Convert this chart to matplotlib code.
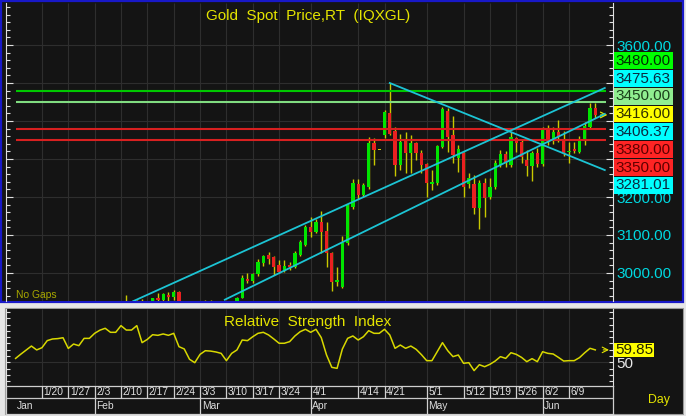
import matplotlib
matplotlib.use('Agg')
import matplotlib.pyplot as plt
from matplotlib.patches import Rectangle
from matplotlib.ticker import FixedLocator, MultipleLocator, FuncFormatter
from matplotlib import font_manager, transforms
import numpy as np
import pandas as pd

W, H = 686, 416

# ---- data -------------------------------------------------------------
dates = pd.bdate_range('2025-01-13', '2025-06-16')

opens = [2690, 2663, 2677, 2696, 2714, 2703, 2708, 2743, 2756, 2755,
         2770, 2740, 2763, 2760, 2794, 2798, 2815, 2842, 2867, 2856,
         2860, 2908, 2898, 2903, 2927, 2882, 2898, 2933, 2930, 2941,
         2937, 2950, 2915, 2916, 2876, 2858, 2893, 2918, 2920, 2910,
         2910, 2889, 2916, 2934, 2985, 2978, 2997, 3026, 3047, 3042,
         3021, 3006, 3021, 3015, 3047, 3074, 3120, 3109, 3135, 3111,
         3052, 2976, 2964, 3078, 3173, 3234, 3205, 3226, 3341, 3325,
         3363, 3422, 3374, 3284, 3350, 3315, 3343, 3317, 3287, 3234,
         3236, 3331, 3427, 3363, 3302, 3315, 3234, 3234, 3171, 3238,
         3199, 3227, 3284, 3312, 3284, 3356, 3346, 3297, 3282, 3315,
         3286, 3376, 3350, 3372, 3352, 3318, 3326, 3318, 3350, 3383,
         3433]
highs = [2693, 2682, 2700, 2724, 2716, 2711, 2745, 2763, 2763, 2786,
         2772, 2767, 2768, 2800, 2817, 2830, 2845, 2882, 2870, 2887,
         2911, 2941, 2908, 2929, 2931, 2905, 2935, 2947, 2948, 2950,
         2956, 2953, 2926, 2924, 2882, 2897, 2928, 2928, 2924, 2927,
         2914, 2922, 2938, 2995, 3001, 3000, 3036, 3048, 3054, 3044,
         3034, 3034, 3029, 3057, 3087, 3126, 3148, 3142, 3164, 3135,
         3055, 3017, 3097, 3182, 3247, 3247, 3238, 3357, 3355, 3325,
         3430, 3500, 3385, 3367, 3372, 3363, 3345, 3323, 3290, 3271,
         3336, 3436, 3433, 3413, 3337, 3318, 3263, 3259, 3245, 3249,
         3249, 3297, 3325, 3322, 3372, 3358, 3350, 3323, 3320, 3328,
         3385, 3389, 3385, 3403, 3375, 3346, 3345, 3360, 3398, 3447,
         3447]
lows = [2656, 2660, 2669, 2690, 2697, 2692, 2701, 2741, 2742, 2753,
        2730, 2738, 2748, 2754, 2781, 2770, 2809, 2839, 2834, 2853,
        2860, 2880, 2865, 2900, 2876, 2877, 2896, 2913, 2921, 2919,
        2930, 2890, 2904, 2875, 2832, 2856, 2879, 2900, 2896, 2894,
        2880, 2882, 2906, 2933, 2973, 2975, 2993, 3018, 3025, 2996,
        3000, 3003, 3008, 3013, 3045, 3072, 3096, 3104, 3053, 3015,
        2952, 2966, 2960, 3075, 3168, 3195, 3200, 3222, 3284, 3325,
        3355, 3363, 3255, 3270, 3262, 3263, 3297, 3262, 3201, 3218,
        3232, 3328, 3319, 3290, 3267, 3201, 3223, 3155, 3115, 3148,
        3195, 3222, 3280, 3280, 3280, 3318, 3289, 3256, 3242, 3280,
        3282, 3337, 3340, 3346, 3307, 3289, 3315, 3315, 3337, 3380,
        3408]
closes = [2663, 2677, 2696, 2714, 2703, 2708, 2743, 2756, 2755, 2770,
          2740, 2763, 2760, 2794, 2798, 2815, 2842, 2867, 2856, 2860,
          2908, 2898, 2903, 2927, 2882, 2898, 2933, 2930, 2944, 2937,
          2951, 2915, 2916, 2876, 2858, 2893, 2918, 2920, 2910, 2910,
          2889, 2916, 2934, 2987, 2978, 2997, 3030, 3045, 3037, 3017,
          3003, 3018, 3015, 3053, 3082, 3122, 3109, 3135, 3109, 3052,
          2977, 2981, 3078, 3179, 3236, 3205, 3232, 3343, 3323, 3325,
          3425, 3365, 3284, 3346, 3315, 3343, 3315, 3284, 3238, 3240,
          3333, 3431, 3359, 3311, 3326, 3227, 3249, 3171, 3238, 3197,
          3227, 3289, 3312, 3289, 3359, 3341, 3306, 3282, 3315, 3286,
          3378, 3350, 3372, 3359, 3315, 3322, 3321, 3350, 3388, 3433,
          3416]

rsi = [53.1, 56.5, 59.7, 62.9, 59.8, 61.6, 67.2, 68.5, 68.8, 69.5,
       61.0, 64.5, 63.2, 69.0, 69.0, 73.0, 75.5, 77.0, 73.8, 73.8,
       79.1, 75.6, 75.6, 79.1, 65.6, 68.2, 71.9, 71.4, 72.5, 71.4,
       73.0, 62.4, 60.6, 52.4, 49.7, 56.3, 59.2, 58.9, 58.2, 57.1,
       51.3, 57.1, 59.8, 67.7, 67.2, 70.3, 73.0, 73.8, 71.7, 68.5,
       65.1, 65.1, 66.4, 70.9, 74.3, 76.2, 73.8, 76.2, 69.6, 55.8,
       46.0, 45.2, 60.5, 69.0, 70.9, 67.7, 70.3, 75.1, 73.0, 73.0,
       76.2, 71.7, 61.1, 63.7, 61.1, 62.9, 60.3, 56.1, 51.3, 51.3,
       58.4, 65.6, 59.2, 54.5, 55.8, 49.2, 49.7, 43.4, 48.1, 46.5,
       48.4, 51.0, 54.5, 53.1, 57.6, 56.3, 53.9, 50.5, 52.9, 50.5,
       58.4, 57.1, 56.6, 53.9, 51.0, 51.3, 51.3, 53.7, 57.6, 61.1,
       59.85]

levels = [3480, 3450, 3380, 3350]
level_colors = ['#00c800', '#80dc80', '#d82020', '#d82020']

# trend lines: start (bar, price) -> anchor on last bar (bar, price)
trend_lines = [(22.3, 2925.7, 110, 3475.63),
               (39.7, 2929.7, 110, 3406.37),
               (71.0, 3500.0, 110, 3281.01)]

right_labels = ['3480.00', '3475.63', '3450.00', '3416.00',
                '3406.37', '3380.00', '3350.00', '3281.01']
right_bg = ['#00ff00', '#00ffff', '#90ee90', '#ffff00',
            '#00ffff', '#ff2424', '#ff2424', '#00ffff']
right_fg = ['#003000', '#0a2840', '#1c401c', '#303000',
            '#0a2840', '#600000', '#600000', '#0a2840']

# scale values hidden behind the value boxes
covered_ticks = [3300, 3400, 3500]

week_labels = ['1/20', '1/27', '2/3', '2/10', '2/17', '2/24', '3/3', '3/10',
               '3/17', '3/24', '4/1', '4/14', '4/21', '5/1', '5/12', '5/19',
               '5/26', '6/2', '6/9']
month_labels = ['Jan', 'Feb', 'Mar', 'Apr', 'May', 'Jun']
month_starts = ['1/13', '2/3', '3/3', '4/1', '5/1', '6/2']

# ---- style ------------------------------------------------------------
plt.rcParams['font.family'] = ['Liberation Sans', 'DejaVu Sans']
names = {f.name for f in font_manager.fontManager.ttflist}
if 'Liberation Sans Narrow' in names:
    NARROW, title_fs, date_fs = 'Liberation Sans Narrow', 13.5, 8.6
else:
    NARROW, title_fs, date_fs = 'Liberation Sans', 11, 7.4

BG = '#141414'
GRID = '#2e2e2e'
AXC = '#e0e0e0'
YEL = '#e4e400'
CYAN = '#1cc4d4'


def bar_idx(label):
    m, d = label.split('/')
    return dates.get_loc(pd.Timestamp(2025, int(m), int(d)))


fig = plt.figure(figsize=(W / 100, H / 100), dpi=100, facecolor='#e6e6e6')


def add_ax(x0, y0, x1, y1):
    return fig.add_axes([x0 / W, 1 - y1 / H, (x1 - x0) / W, (y1 - y0) / H])


def fig_rect(x, y, w, h, **kw):
    r = Rectangle((x / W, 1 - (y + h) / H), w / W, h / H,
                  transform=fig.transFigure, **kw)
    fig.add_artist(r)


def fig_text(x, y, s, **kw):
    fig.text(x / W, 1 - y / H, s, **kw)


# panel frames
fig_rect(1, 1, 681.5, 300.5, fc=BG, ec='#1818c8', lw=1.6, zorder=-5)
fig_rect(4.5, 307.5, 678, 106, fc=BG, ec='#9a9a9a', lw=0.8, zorder=-5)

XLIM = ((6 - 15.6) / 5.27, (612.5 - 15.6) / 5.27)
x = np.arange(len(dates))
wk = [bar_idx(s) for s in week_labels]

# ---- price panel ------------------------------------------------------
ax = add_ax(6, 3, 612.5, 301)
ax.set_facecolor(BG)
ax.set_xlim(*XLIM)
ax.set_ylim(3600 - 256 / 0.38, 3600 + 42 / 0.38)
for s in ['top', 'bottom']:
    ax.spines[s].set_visible(False)
for s in ['left', 'right']:
    ax.spines[s].set_color(AXC)
    ax.spines[s].set_linewidth(0.8)
ax.set_xticks([])
ax.yaxis.set_major_locator(FixedLocator(range(3000, 3700, 100)))
ax.yaxis.set_minor_locator(MultipleLocator(20))
ax.yaxis.set_major_formatter(
    FuncFormatter(lambda v, p: '' if round(v) in covered_ticks else '%.2f' % v))
ax.tick_params(axis='y', which='both', direction='in', left=True, right=True,
               labelleft=False, labelright=True, color=AXC, width=0.8,
               labelcolor='#00d8e0', labelsize=11, pad=2.5)
ax.tick_params(axis='y', which='major', length=5)
ax.tick_params(axis='y', which='minor', length=3)

ax.vlines(wk, *ax.get_ylim(), color=GRID, lw=0.8, zorder=0.5)
ax.hlines(range(3000, 3700, 100), *XLIM, color=GRID, lw=0.8, zorder=0.5)

o, h, l, c = (np.array(v, dtype=float) for v in (opens, highs, lows, closes))
body_col = np.where(c > o, '#00e400', np.where(c < o, '#ea2020', '#d4d400'))
span = np.abs(c - o)
bh = np.maximum(span, 2.5)
ax.vlines(x, l, h, color='#c8c800', lw=1.0, zorder=2)
ax.bar(x, bh, bottom=np.minimum(o, c) - (bh - span) / 2, width=0.62,
       color=body_col, lw=0, zorder=3)

x_end = 111.8
ax.hlines(levels, 0, x_end + 0.2, colors=level_colors, lw=1.5, zorder=4)
for x0, y0, x1, y1 in trend_lines:
    k = (y1 - y0) / (x1 - x0)
    ax.plot([x0, x_end], [y0, y1 + k * (x_end - x1)], color=CYAN, lw=1.3,
            zorder=5)

ax.annotate('', xy=(112.3, closes[-1]), xytext=(111.0, closes[-1]),
            arrowprops=dict(arrowstyle='->', color=YEL, lw=0.9,
                            shrinkA=0, shrinkB=0), annotation_clip=False)

fig_text(308.5, 16, 'Gold  Spot  Price,RT  (IQXGL)', color=YEL,
         fontsize=title_fs, family=NARROW, ha='center', va='center')
fig_text(16, 295.5, 'No Gaps', color='#a8a800', fontsize=date_fs,
         family=NARROW, ha='left', va='center')

# stacked value boxes on the right scale
for n, (s, bg, fg) in enumerate(zip(right_labels, right_bg, right_fg)):
    yc = 60.5 + n * 17.8
    fig_rect(614.3, yc - 8.4, 58.5, 16.8, fc=bg, ec='none', zorder=2)
    fig_text(615.5, yc + 0.3, s, color=fg, fontsize=11, ha='left',
             va='center', zorder=3)

# ---- RSI panel --------------------------------------------------------
ar = add_ax(6, 309, 612.5, 385.5)
ar.set_facecolor(BG)
ar.set_xlim(*XLIM)
ar.set_ylim(50 - (385.5 - 362.3) / 1.26, 50 + (362.3 - 309) / 1.26)
for s in ['top', 'bottom']:
    ar.spines[s].set_visible(False)
for s in ['left', 'right']:
    ar.spines[s].set_color(AXC)
    ar.spines[s].set_linewidth(0.8)
ar.set_xticks([])
ar.yaxis.set_major_locator(FixedLocator([50]))
ar.yaxis.set_minor_locator(MultipleLocator(5))
ar.tick_params(axis='y', which='both', direction='in', left=True, right=True,
               labelleft=False, labelright=True, color=AXC, width=0.8,
               labelcolor='#e8e8e8', labelsize=11, pad=2.5, length=3)
ar.vlines(wk, *ar.get_ylim(), color=GRID, lw=0.8, zorder=0.5)
ar.axhline(50, color=GRID, lw=0.8, zorder=0.5)
ar.plot(x, rsi, color='#d8d800', lw=1.1, zorder=3)
ar.annotate('', xy=(112.6, rsi[-1]), xytext=(111.5, rsi[-1]),
            arrowprops=dict(arrowstyle='->', color=YEL, lw=0.8,
                            shrinkA=0, shrinkB=0), annotation_clip=False)
fig_text(307.5, 322, 'Relative  Strength  Index', color=YEL,
         fontsize=title_fs, family=NARROW, ha='center', va='center')

fig_rect(614, 342.7, 40, 14.6, fc='#ffff00', ec='none', zorder=2)
fig_text(615, 350.3, '%.2f' % rsi[-1], color='#202000', fontsize=11,
         ha='left', va='center', zorder=3)

# ---- date rows --------------------------------------------------------
ad = add_ax(6, 385.5, 612.5, 413.5)
ad.set_facecolor(BG)
ad.set_xlim(*XLIM)
ad.set_ylim(413.5, 385.5)
ad.set_xticks([])
ad.set_yticks([])
for s in ad.spines.values():
    s.set_color('#d0d0d0')
    s.set_linewidth(0.9)
ad.hlines(397.5, *XLIM, color='#c8c8c8', lw=0.9)
ad.vlines(wk, 385.5, 397.5, color='#d0d0d0', lw=0.9)
ms = [bar_idx(s) for s in month_starts]
ad.vlines(ms[1:], 397.5, 413.5, color='#d0d0d0', lw=0.9)
shift = transforms.offset_copy(ad.transData, fig=fig, x=1.6, y=0,
                               units='dots')
for i, s in zip(wk, week_labels):
    ad.text(i, 392, s, transform=shift, color='#e0e0e0', fontsize=date_fs,
            family=NARROW, ha='left', va='center')
for i, s in zip(ms, month_labels):
    ad.text(i, 406, s, transform=shift, color='#dcdcdc', fontsize=date_fs,
            family=NARROW, ha='left', va='center')

fig_text(659, 400, 'Day', color=YEL, fontsize=date_fs + 1.5, family=NARROW,
         ha='center', va='center')

fig.savefig('out.png', dpi=100, facecolor=fig.get_facecolor())
